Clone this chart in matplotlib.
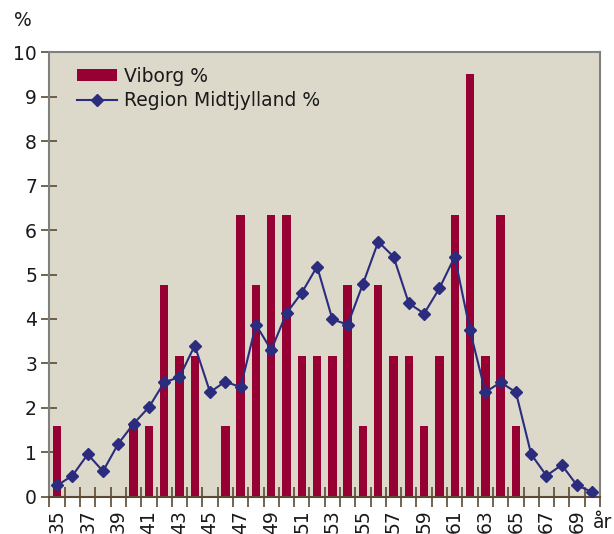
import numpy as np
import matplotlib
matplotlib.use("Agg")
import matplotlib.pyplot as plt
from matplotlib.lines import Line2D
from matplotlib.patches import Patch

# alder 35-70
ages = list(range(35, 71))

viborg = [1.59, 0, 0, 0, 0, 1.59, 1.59, 4.76, 3.17, 3.17,
          0, 1.59, 6.35, 4.76, 6.35, 6.35, 3.17, 3.17, 3.17, 4.76,
          1.59, 4.76, 3.17, 3.17, 1.59, 3.17, 6.35, 9.52, 3.17, 6.35,
          1.59, 0, 0, 0, 0, 0]

region = [0.25, 0.47, 0.95, 0.57, 1.19, 1.64, 2.01, 2.57, 2.69, 3.40,
          2.35, 2.59, 2.46, 3.87, 3.30, 4.13, 4.59, 5.18, 3.99, 3.87,
          4.79, 5.74, 5.40, 4.35, 4.12, 4.69, 5.40, 3.74, 2.35, 2.57,
          2.35, 0.95, 0.47, 0.71, 0.25, 0.10]

tick_ages = ages[::2]  # 35, 37, ..., 69

bar_col = "#960032"
line_col = "#2b2c7e"
bg_col = "#dcd8ca"
tick_col = "#5b4a35"
txt_col = "#1a1a1a"

plt.rcParams["font.family"] = ["DejaVu Sans"]
plt.rcParams["font.size"] = 13.5

fig = plt.figure(figsize=(6.14, 5.34), dpi=100)
ax = fig.add_axes([0.0806, 0.0702, 0.8966, 0.8315])
ax.set_facecolor(bg_col)

x = np.arange(len(ages))
ax.bar(x, viborg, width=0.55, color=bar_col, zorder=2)
ax.plot(x, region, color=line_col, lw=1.5, marker="D", markersize=6.5,
        markeredgecolor=line_col, zorder=3)

ax.set_xlim(-0.5, len(ages) - 0.5)
ax.set_ylim(0, 10)
ax.set_yticks(range(0, 11))

# labels on every second category, tick marks between categories
ax.set_xticks(x[::2])
ax.set_xticklabels([str(a) for a in tick_ages], rotation=90, color=txt_col)
ax.set_xticks(np.arange(-0.5, len(ages), 1.0), minor=True)
ax.tick_params(axis="x", which="major", length=0, pad=9.5)
ax.tick_params(axis="x", which="minor", direction="inout", length=14,
               width=1.2, color=tick_col)
ax.tick_params(axis="y", direction="inout", length=12, width=1.2,
               color=tick_col, labelcolor=txt_col, pad=3)

for side in ["left", "top", "right"]:
    ax.spines[side].set_color("#808080")
    ax.spines[side].set_linewidth(1.5)
ax.spines["bottom"].set_color(tick_col)
ax.spines["bottom"].set_linewidth(1.5)

fig.text(603 / 614, 1 - 523 / 534, "år", ha="center", va="center",
         color=txt_col)
fig.text(23 / 614, 1 - 21 / 534, "%", ha="center", va="center", color=txt_col)

handles = [Patch(facecolor=bar_col, edgecolor="none"),
           Line2D([], [], color=line_col, lw=1.5, marker="D", markersize=6.5)]
ax.legend(handles, ["Viborg %", "Region Midtjylland %"], loc="upper left",
          bbox_to_anchor=(0.05, 0.968), frameon=False, borderpad=0,
          borderaxespad=0, handlelength=2.15, handleheight=0.6,
          handletextpad=0.37, labelspacing=0.3, labelcolor=txt_col)

fig.savefig("out.png", dpi=100, facecolor="white")
